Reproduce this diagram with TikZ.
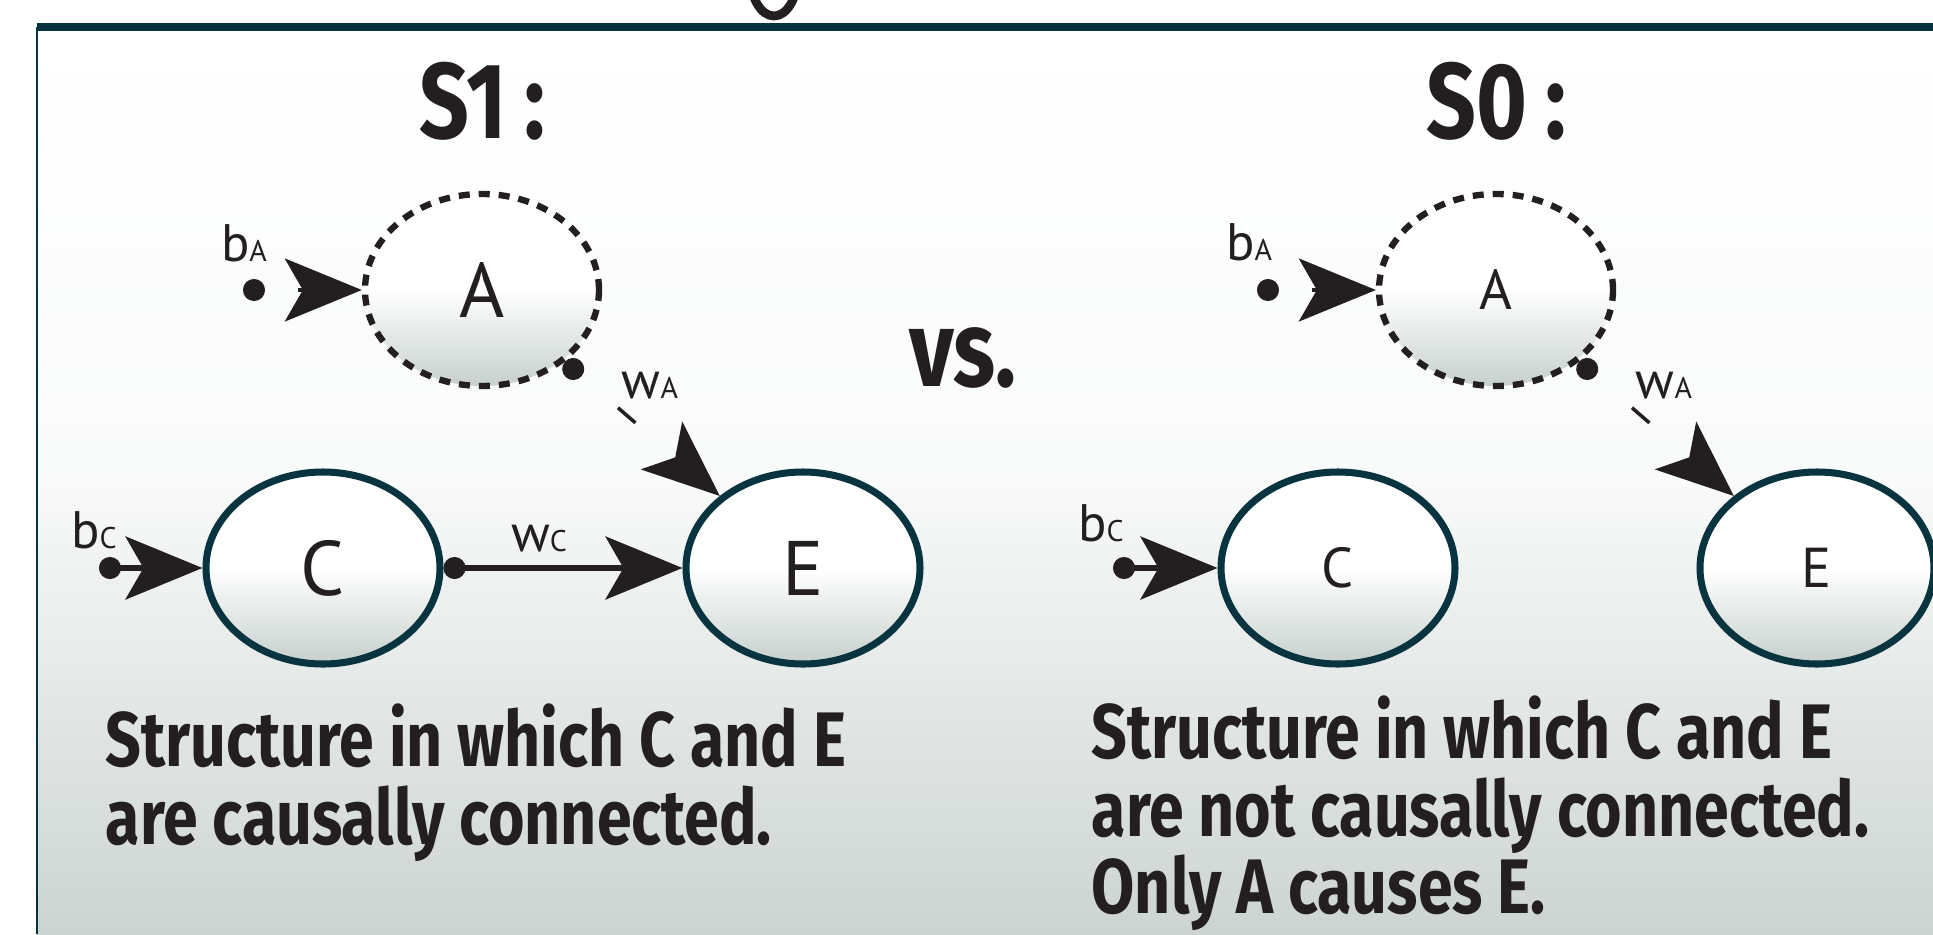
\documentclass[tikz,border=0pt]{standalone}
\usepackage{fontspec}
\setmainfont{PT Sans}
\newfontfamily\capfont[FakeStretch=0.81]{Fira Sans}
\usepackage{tikz}
\usepackage{xcolor}
\usetikzlibrary{arrows.meta, shapes.geometric, positioning}

\definecolor{rimteal}{RGB}{8,52,64}
\definecolor{shadegrey}{RGB}{198,208,205}
\definecolor{bggrey}{RGB}{204,212,209}
\definecolor{inkblack}{RGB}{35,31,32}

\newcommand\parm[2]{#1{\fontsize{8.5}{10}\selectfont #2}}

\tikzset{
  var/.style={ellipse, draw=rimteal, line width=2pt, minimum width=2.34cm, minimum height=1.92cm,
    inner sep=0pt, top color=white, bottom color=shadegrey, middle color=white, text=inkblack},
  hidvar/.style={var, draw=inkblack, line width=1.8pt, dash pattern=on 1.1mm off 0.9mm},
  big/.style={font=\fontsize{22}{24}\selectfont},
  small/.style={font=\fontsize{16}{18}\selectfont},
  lbl/.style={font=\fontsize{15}{17}\selectfont, text=inkblack, inner sep=0pt},
  title/.style={font=\capfont\bfseries\fontsize{30.6}{32}\selectfont, text=inkblack, inner sep=0pt},
  caption/.style={font=\capfont\bfseries\fontsize{22}{22.1}\selectfont, text=inkblack, align=left, inner sep=0pt},
  link/.style={draw=inkblack, line width=1.6pt,
    {Circle[length=2.2mm]}-{Stealth[length=7.7mm, width=6.3mm, inset=1.8mm]}},
  weaklink/.style={link, line width=1pt},
  gapfirst/.style={dash pattern=on 10mm off 3.5mm, dash phase=10mm},
  onedash/.style={dash pattern=on 2.3mm off 20mm, dash phase=17.3mm},
}

\begin{document}
\begin{tikzpicture}
    \useasboundingbox (0,0) rectangle (19.33,9.34);
    % background and frame
    \fill[top color=white, bottom color=bggrey, middle color=white!88!bggrey] (0.37,0) rectangle (19.33,9.07);
    \draw[rimteal, line width=2.2pt] (0.37,9.07) -- (19.33,9.07);
    \draw[rimteal, line width=0.6pt] (0.37,9.07) -- (0.37,0);
    \draw[inkblack, line width=2.5pt] (7.74,9.6) ellipse (0.24 and 0.42);

    % S1
    \node[title, anchor=base west] (s1) at (4.19,7.96) {S1\,:};
    \node[hidvar, big] (A1) at (4.82,6.44) {A};
    \node[var, big] (C1) at (3.23,3.66) {C};
    \node[var, big] (E1) at (8.03,3.66) {E};
    \coordinate (bA1) at (2.43,6.44);
    \coordinate (bC1) at (0.99,3.66);
    \node[lbl] (lbA1) at (2.44,6.91) {\parm{b}{A}};
    \node[lbl] (lbC1) at (0.94,4.04) {\parm{b}{C}};
    \node[lbl] (lwC1) at (5.39,3.95) {\parm{w}{C}};
    \node[lbl] (lwA1) at (6.50,5.48) {\parm{w}{A}};

    \draw
    (bA1) edge[weaklink, gapfirst] (A1)
    (bC1) edge[link] (C1)
    (C1) edge[link] (E1)
    (A1) edge[weaklink, onedash] (E1);

    \node[caption, anchor=north west] (cap1) at (1.05,2.31) {Structure in which C and E\\are causally connected.};

    \node[title, anchor=base west] (vs) at (9.09,5.48) {vs.};

    % S0
    \node[title, anchor=base west] (s0) at (14.26,7.96) {S0\,:};
    \node[hidvar, small] (A0) at (14.96,6.44) {A};
    \node[var, small] (C0) at (13.38,3.66) {C};
    \node[var, small] (E0) at (18.17,3.66) {E};
    \coordinate (bA0) at (12.57,6.44);
    \coordinate (bC0) at (11.13,3.66);
    \node[lbl] (lbA0) at (12.49,6.92) {\parm{b}{A}};
    \node[lbl] (lbC0) at (11.01,4.11) {\parm{b}{C}};
    \node[lbl] (lwA0) at (16.64,5.48) {\parm{w}{A}};

    \draw
    (bA0) edge[weaklink, gapfirst] (A0)
    (bC0) edge[link] (C0)
    (A0) edge[weaklink, onedash] (E0);

    \node[caption, anchor=north west] (cap0) at (10.91,2.39) {Structure in which C and E\\are not causally connected.\\Only A causes E.};
\end{tikzpicture}
\end{document}
